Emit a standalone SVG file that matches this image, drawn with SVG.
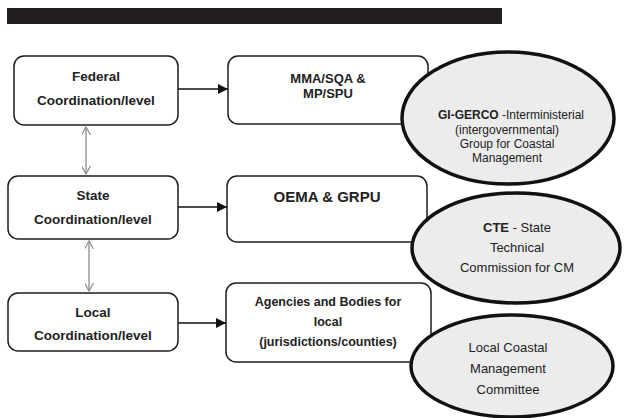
<svg xmlns="http://www.w3.org/2000/svg" width="643" height="418" viewBox="0 0 643 418">
<style>
.box{fill:#fff;stroke:#1e1e1e;stroke-width:1.5}
.ell{fill:#ececec;stroke:#111;stroke-width:3.5}
.bt{font-family:"Liberation Sans",Arial,sans-serif;font-weight:bold;fill:#222;text-anchor:middle}
.et{font-family:"Liberation Sans",Arial,sans-serif;fill:#222;text-anchor:middle}
.conn{stroke:#111;stroke-width:1.4;fill:none}
.gray{stroke:#8a8a8a;stroke-width:1.3;fill:none}
</style>
<defs>
<marker id="tri" viewBox="0 0 10 10" refX="10" refY="5" markerWidth="10" markerHeight="10" markerUnits="userSpaceOnUse" orient="auto"><path d="M0,0 L10,5 L0,10 z" fill="#111"/></marker>
<marker id="vee" viewBox="0 0 10 10" refX="9" refY="5" markerWidth="9" markerHeight="9" markerUnits="userSpaceOnUse" orient="auto-start-reverse"><path d="M0,0 L9,5 L0,10" fill="none" stroke="#8a8a8a" stroke-width="1.3"/></marker>
</defs>
<rect x="7" y="8" width="495" height="16" fill="#231f20"/>
<g id="connectors">
<line class="conn" x1="178" y1="89" x2="228" y2="89" marker-end="url(#tri)"/>
<line class="conn" x1="178" y1="207" x2="227" y2="207" marker-end="url(#tri)"/>
<line class="conn" x1="178" y1="323" x2="226" y2="323" marker-end="url(#tri)"/>
<line class="gray" x1="86" y1="127" x2="86" y2="174" marker-start="url(#vee)" marker-end="url(#vee)"/>
<line class="gray" x1="89" y1="241" x2="89" y2="291" marker-start="url(#vee)" marker-end="url(#vee)"/>
</g>
<g id="federal">
<rect class="box" x="14" y="56" width="164" height="69" rx="10"/>
<text class="bt" font-size="13.5" x="96" y="81">Federal</text>
<text class="bt" font-size="13.5" x="96" y="105">Coordination/level</text>
</g>
<g id="state">
<rect class="box" x="8" y="176" width="170" height="63" rx="10"/>
<text class="bt" font-size="13.5" x="93" y="200">State</text>
<text class="bt" font-size="13.5" x="93" y="224">Coordination/level</text>
</g>
<g id="local">
<rect class="box" x="8" y="293" width="170" height="58" rx="10"/>
<text class="bt" font-size="13.5" x="93" y="317">Local</text>
<text class="bt" font-size="13.5" x="93" y="340">Coordination/level</text>
</g>
<g id="mma">
<rect class="box" x="228" y="56" width="200" height="68" rx="10"/>
<text class="bt" font-size="13" x="328" y="83">MMA/SQA &amp;</text>
<text class="bt" font-size="13" x="328" y="98">MP/SPU</text>
</g>
<g id="oema">
<rect class="box" x="227" y="176" width="200" height="66" rx="10"/>
<text class="bt" font-size="15" x="327" y="202">OEMA &amp; GRPU</text>
</g>
<g id="agencies">
<rect class="box" x="226" y="283" width="205" height="79" rx="10"/>
<text class="bt" font-size="12.5" x="328" y="306">Agencies and Bodies for</text>
<text class="bt" font-size="12.5" x="328" y="326">local</text>
<text class="bt" font-size="12.5" x="328" y="346">(jurisdictions/counties)</text>
</g>
<g id="gigerco">
<ellipse class="ell" cx="508" cy="118" rx="106" ry="66"/>
<text class="et" font-size="12" x="511" y="119"><tspan font-weight="bold">GI-GERCO </tspan>-Interministerial</text>
<text class="et" font-size="12" x="507" y="134">(intergovernmental)</text>
<text class="et" font-size="12" x="507" y="148">Group for Coastal</text>
<text class="et" font-size="12" x="507" y="162">Management</text>
</g>
<g id="cte">
<ellipse class="ell" cx="516" cy="248" rx="104" ry="55"/>
<text class="et" font-size="13" x="517" y="232"><tspan font-weight="bold">CTE</tspan> - State</text>
<text class="et" font-size="13" x="517" y="252">Technical</text>
<text class="et" font-size="13" x="517" y="272">Commission for CM</text>
</g>
<g id="localcm">
<ellipse class="ell" cx="512" cy="366" rx="101" ry="51"/>
<text class="et" font-size="13" x="508" y="352">Local Coastal</text>
<text class="et" font-size="13" x="508" y="373">Management</text>
<text class="et" font-size="13" x="508" y="394">Committee</text>
</g>
</svg>
